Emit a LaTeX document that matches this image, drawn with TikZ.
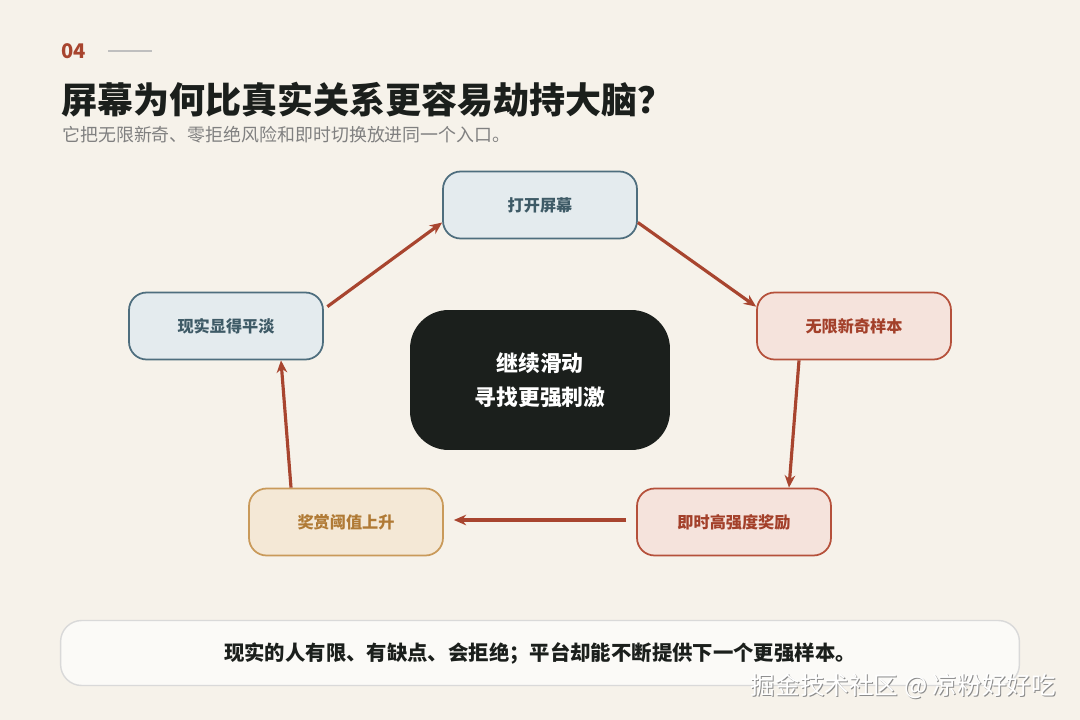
\documentclass[tikz,border=0pt]{standalone}
\usepackage{fontspec}
\setmainfont{Noto Sans CJK SC}
\usetikzlibrary{positioning,arrows.meta}
\definecolor{bgc}{HTML}{F6F2EA}
\definecolor{rust}{HTML}{A8452F}
\definecolor{bluefill}{HTML}{E4EBEE}
\definecolor{bluedraw}{HTML}{4E6E7E}
\definecolor{bluetext}{HTML}{3E5A66}
\definecolor{redfill}{HTML}{F5E3DC}
\definecolor{reddraw}{HTML}{B5513B}
\definecolor{redtext}{HTML}{A3402A}
\definecolor{yelfill}{HTML}{F4E8D6}
\definecolor{yeldraw}{HTML}{C99A5A}
\definecolor{yeltext}{HTML}{B07A35}
\definecolor{darkc}{HTML}{1B1F1C}
\begin{document}
\begin{tikzpicture}[x=0.02cm,y=-0.02cm,
  step box/.style={rounded corners=10pt,line width=1pt,minimum width=3.88cm,minimum height=1.34cm,font=\bfseries\fontsize{9.2}{11}\selectfont},
  blue box/.style={step box,fill=bluefill,draw=bluedraw,text=bluetext},
  red box/.style={step box,fill=redfill,draw=reddraw,text=redtext},
  yel box/.style={step box,fill=yelfill,draw=yeldraw,text=yeltext},
  flow/.style={-{Stealth[length=7pt,width=6pt]},rust,line width=1.8pt}]
\fill[bgc] (0,0) rectangle (1080,720);
\node[anchor=west,inner sep=0pt,text=rust,font=\bfseries\fontsize{11.5}{13}\selectfont] (num) at (61,51) {04};
\draw[gray!50,line width=0.6pt] (108,51) -- (152,51);
\node[anchor=west,inner sep=0pt,font=\bfseries\fontsize{20.5}{24}\selectfont,text=darkc] (title) at (61,100) {屏幕为何比真实关系更容易劫持大脑？};
\node[anchor=west,inner sep=0pt,font=\fontsize{10.2}{12}\selectfont,text=gray] (sub) at (62,135) {它把无限新奇、零拒绝风险和即时切换放进同一个入口。};

\node[blue box] (open) at (540,205) {打开屏幕};
\node[red box] (novel) at (854,326) {无限新奇样本};
\node[red box] (reward) at (734,522) {即时高强度奖励};
\node[yel box] (thresh) at (346,522) {奖赏阈值上升};
\node[blue box] (plain) at (226,326) {现实显得平淡};
\node[rounded corners=22pt,fill=darkc,minimum width=5.2cm,minimum height=2.8cm,text=white,align=center,font=\bfseries\fontsize{12.4}{19.5}\selectfont] (core) at (540,380) {继续滑动\\寻找更强刺激};

\draw[flow] ([xshift=2pt,yshift=-0.3cm]plain.north east) -- ([yshift=-0.35cm]open.west);
\draw[flow] ([yshift=-0.35cm]open.east) -- ([yshift=-0.3cm]novel.north west);
\draw[flow] ([xshift=-1.1cm]novel.south) -- ([xshift=1.1cm]reward.north);
\draw[flow] ([xshift=-0.2cm,yshift=0.04cm]reward.west) -- ([xshift=0.2cm,yshift=0.04cm]thresh.east);
\draw[flow] ([xshift=-1.1cm]thresh.north) -- ([xshift=1.1cm]plain.south);

\node[rounded corners=12pt,fill=white!60!bgc,draw=black!15,line width=0.8pt,minimum width=19.18cm,minimum height=1.3cm,font=\bfseries\fontsize{11.6}{14}\selectfont,text=darkc] (note) at (540,653) {现实的人有限、有缺点、会拒绝；平台却能不断提供下一个更强样本。};
\node[anchor=east,text=black!45,font=\fontsize{14}{16}\selectfont] (shadow) at (1063,687) {掘金技术社区 @ 凉粉好好吃};
\node[anchor=east,text=white,font=\fontsize{14}{16}\selectfont] (mark) at (1062,686) {掘金技术社区 @ 凉粉好好吃};
\end{tikzpicture}
\end{document}
